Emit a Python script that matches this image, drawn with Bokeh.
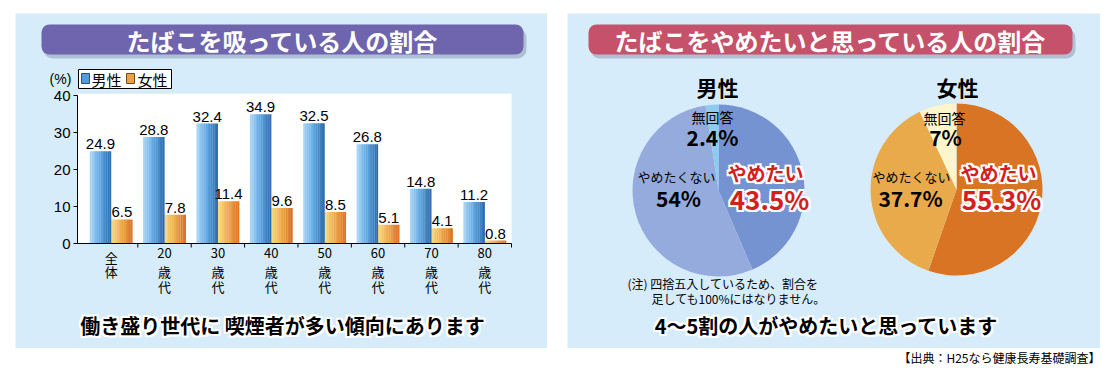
import math
from bokeh.plotting import figure
from bokeh.models import Range1d, Spacer, Quad
from bokeh.layouts import column, row
from bokeh.core.properties import value
from bokeh.embed import file_html
from bokeh.resources import INLINE

# ---------------- data ----------------
categories = ["全体", "20歳代", "30歳代", "40歳代", "50歳代", "60歳代", "70歳代", "80歳代"]
tick_labels = ["全\n体", "20\n歳\n代", "30\n歳\n代", "40\n歳\n代",
               "50\n歳\n代", "60\n歳\n代", "70\n歳\n代", "80\n歳\n代"]
male_smoke = [24.9, 28.8, 32.4, 34.9, 32.5, 26.8, 14.8, 11.2]
female_smoke = [6.5, 7.8, 11.4, 9.6, 8.5, 5.1, 4.1, 0.8]
y_ticks = [0, 10, 20, 30, 40]
series_names = ["男性", "女性"]

pie_labels = ["やめたい", "やめたくない", "無回答"]
male_quit = [43.5, 54.0, 2.4]
female_quit = [55.3, 37.7, 7.0]
male_quit_text = ["43.5%", "54%", "2.4%"]
female_quit_text = ["55.3%", "37.7%", "7%"]

title_left = "たばこを吸っている人の割合"
title_right = "たばこをやめたいと思っている人の割合"
caption_left = "働き盛り世代に 喫煙者が多い傾向にあります"
caption_right = "4～5割の人がやめたいと思っています"
note_lines = ["(注) 四捨五入しているため、割合を", "足しても100%にはなりません。"]
source_text = "【出典：H25なら健康長寿基礎調査】"

# ---------------- styles ----------------
PANEL = "#d7ecfa"
JP = "Noto Sans CJK JP"
NUM = "Liberation Sans"
PURPLE = "#6f64ae"
ROSE = "#c6516a"
RED = "#d4201c"
SHADOW = "#7d8ea6"
BLUE_STOPS = ["#a8d5f5", "#5ba4e1", "#2f6dab"]
ORANGE_STOPS = ["#f7d87d", "#eda74b", "#dc7325"]
SWATCH = ["#4f9ddc", "#eca244"]
MALE_PIE = ["#7592d1", "#95abdd", "#8ecbf0"]
FEMALE_PIE = ["#d97424", "#e9aa4b", "#fdf5cb"]

HAS_RADIUS = "border_radius" in Quad.properties()


def gradient(stops, n):
    """style helper: n colours running through the given colour stops"""
    rgb = [tuple(int(s[i:i + 2], 16) for i in (1, 3, 5)) for s in stops]
    out = []
    for k in range(n):
        t = k / (n - 1) * (len(rgb) - 1)
        a = min(int(t), len(rgb) - 2)
        f = t - a
        c = [round(rgb[a][m] + (rgb[a + 1][m] - rgb[a][m]) * f) for m in range(3)]
        out.append("#%02x%02x%02x" % tuple(c))
    return out


def deco_fig(w, h, bg=PANEL, **kw):
    p = figure(width=w, height=h, x_range=Range1d(0, w), y_range=Range1d(h, 0),
               x_axis_type=None, y_axis_type=None, min_border=0,
               toolbar_location=None, output_backend="svg",
               background_fill_color=bg, border_fill_color=bg, outline_line_color=None, **kw)
    p.grid.visible = False
    return p


def rquad(p, left, right, top, bottom, color, alpha=1.0, radius=8, line=None):
    kw = dict(left=[left], right=[right], top=[top], bottom=[bottom],
              fill_color=color, fill_alpha=alpha, line_color=line)
    if HAS_RADIUS and radius:
        kw["border_radius"] = radius
    p.quad(**kw)


def txt(p, x, y, s, size, color="black", bold=False, align="center", font=JP,
        baseline="middle"):
    p.text(x=[x], y=[y], text=[s], text_font=value(font), text_font_size=size,
           text_color=color, text_font_style="bold" if bold else "normal",
           text_align=align, text_baseline=baseline)


def halo(p, x, y, s, size, color, bold=True, w=2, font=JP, align="center"):
    offs = [(dx, dy) for dx in (-w, 0, w) for dy in (-w, 0, w) if (dx, dy) != (0, 0)]
    p.text(x=[x + dx for dx, dy in offs], y=[y + dy for dx, dy in offs], text=[s] * len(offs),
           text_font=value(font), text_font_size=size, text_color="white",
           text_font_style="bold" if bold else "normal",
           text_align=align, text_baseline="middle")
    txt(p, x, y, s, size, color, bold, align, font)


def title_bar(p, left, right, top, bottom, color, s):
    rquad(p, left + 2, right + 3, top + 4, bottom + 4, SHADOW, 0.45, 9)
    rquad(p, left, right, top, bottom, color, 1.0, 8)
    txt(p, (left + right) / 2, (top + bottom) / 2 + 1, s, "24px", "white", True)


# ---------------- left panel ----------------
LW, LH = 532, 335
# placement of the bar plot inside the panel (pixels from panel's left / top)
AX_L, AX_R, AX_T, AX_B = 62, 496, 82, 230
XMIN, XMAX = -0.63, 7.5
YMIN, YMAX = 0, 40
kx = (AX_R - AX_L) / (XMAX - XMIN)
ky = (AX_B - AX_T) / (YMAX - YMIN)
bx = Range1d(XMIN - AX_L / kx, XMAX + (LW - AX_R) / kx)
by = Range1d(YMIN - (LH - AX_B) / ky, YMAX + AX_T / ky)

lp = deco_fig(LW, LH, extra_x_ranges={"bx": bx}, extra_y_ranges={"by": by})
title_bar(lp, 26, 508, 11, 41, PURPLE, title_left)
R = dict(x_range_name="bx", y_range_name="by")

# plot area
lp.quad(left=[XMIN], right=[XMAX], bottom=[YMIN], top=[YMAX + 0.5], fill_color="white",
        line_color=None, **R)

idx = list(range(len(categories)))
BW = 0.4
n = 12
blue_strips = gradient(BLUE_STOPS, n)
orange_strips = gradient(ORANGE_STOPS, n)
sw = BW / n
for k in range(n):
    xs_m = [i - BW + (k + 0.5) * sw for i in idx]
    xs_f = [i + (k + 0.5) * sw for i in idx]
    lp.vbar(x=xs_m, top=male_smoke, bottom=0, width=sw * 1.1,
            fill_color=blue_strips[k], line_color=None, **R)
    lp.vbar(x=xs_f, top=female_smoke, bottom=0, width=sw * 1.1,
            fill_color=orange_strips[k], line_color=None, **R)

# value labels
lp.text(x=[i - BW / 2 for i in idx] + [i + BW / 2 for i in idx],
        y=male_smoke + female_smoke,
        text=[f"{v:.1f}" for v in male_smoke + female_smoke],
        y_offset=-2, text_align="center", text_baseline="bottom",
        text_font=value(NUM), text_font_size="15px", text_color="black", **R)

# y axis
lp.segment(x0=[XMIN], y0=[YMIN], x1=[XMIN], y1=[YMAX], line_color="black", line_width=1, **R)
lp.segment(x0=[XMIN - 4 / kx] * len(y_ticks), x1=[XMIN] * len(y_ticks), y0=y_ticks, y1=y_ticks,
           line_color="black", line_width=1, **R)
lp.text(x=[XMIN] * len(y_ticks), y=y_ticks, text=[str(t) for t in y_ticks], x_offset=-7,
        text_align="right", text_baseline="middle", text_font=value(NUM),
        text_font_size="15px", text_color="black", **R)

# x axis
lp.segment(x0=[XMIN], y0=[YMIN], x1=[XMAX], y1=[YMIN], line_color="black", line_width=1, **R)
bounds = [i + 0.5 for i in idx]
lp.segment(x0=bounds, x1=bounds, y0=[YMIN] * len(bounds), y1=[YMIN - 4 / ky] * len(bounds),
           line_color="black", line_width=1, **R)
lx, ly, lt, lo = [], [], [], []
for i, lab in zip(idx, tick_labels):
    for j, part in enumerate(lab.split("\n")):
        lx.append(i)
        ly.append(YMIN)
        lt.append(part)
        lo.append(4 + 14.5 * j)
lp.text(x=lx, y=ly, text=lt, y_offset=lo, text_align="center", text_baseline="top",
        text_font=value(JP), text_font_size="13px", text_color="black", **R)

# legend
rquad(lp, 63, 156, 56, 75, "white", 1.0, 0, line="black")
rquad(lp, 66, 74, 60, 70, SWATCH[0], 1.0, 0, line="#2b4f78")
txt(lp, 76, 65.5, series_names[0], "15px", align="left")
rquad(lp, 111, 119, 60, 70, SWATCH[1], 1.0, 0, line="#6e4a26")
txt(lp, 122, 65.5, series_names[1], "15px", align="left")
txt(lp, 45, 65, "(%)", "14px", font=NUM)

halo(lp, 267, 312, caption_left, "20px", "black", True, 2)

# ---------------- right panel ----------------
RW, RH = 533, 335
rp = deco_fig(RW, RH)
title_bar(rp, 21, 505, 11, 41, ROSE, title_right)

txt(rp, 150, 73, series_names[0], "21px", "black", True)
txt(rp, 390, 73, series_names[1], "21px", "black", True)


def pie(p, cx, cy, r, vals, colors):
    total = sum(vals)
    c = 0.0
    starts, ends = [], []
    for v in vals:
        c0 = c
        c += v / total
        starts.append(math.pi / 2 - 2 * math.pi * c)
        ends.append(math.pi / 2 - 2 * math.pi * c0)
    p.wedge(x=[cx] * len(vals), y=[cy] * len(vals), radius=r, start_angle=starts,
            end_angle=ends, direction="anticlock", fill_color=colors, line_color=None)


pie(rp, 151, 177, 86, male_quit, MALE_PIE)
pie(rp, 389, 176, 86, female_quit, FEMALE_PIE)

# male labels
txt(rp, 145, 103, pie_labels[2], "14px")
txt(rp, 145, 123, male_quit_text[2], "21px", bold=True)
txt(rp, 109, 163, pie_labels[1], "13px")
txt(rp, 111, 184, male_quit_text[1], "21px", bold=True)
halo(rp, 198, 159, pie_labels[0], "19px", RED, True, 2)
halo(rp, 202, 185, male_quit_text[0], "26px", RED, True, 2)
# female labels
txt(rp, 377, 104, pie_labels[2], "14px")
txt(rp, 378, 123, female_quit_text[2], "21px", bold=True)
txt(rp, 344, 163, pie_labels[1], "13px")
txt(rp, 343, 184, female_quit_text[1], "21px", bold=True)
halo(rp, 431, 159, pie_labels[0], "19px", RED, True, 2)
halo(rp, 434, 185, female_quit_text[0], "26px", RED, True, 2)

txt(rp, 60, 270, note_lines[0], "12px", align="left")
txt(rp, 84, 285, note_lines[1], "12px", align="left")

halo(rp, 259, 312, caption_right, "20px", "black", True, 2)

# ---------------- source ----------------
src = deco_fig(1112, 29, bg="white")
txt(src, 1100, 9, source_text, "12px", align="right")

root = column(
    Spacer(width=1112, height=13),
    row(Spacer(width=15, height=335), column(lp), Spacer(width=20, height=335), column(rp),
        Spacer(width=12, height=335), spacing=0),
    src,
    spacing=0,
)

open("out.html", "w").write(file_html(root, INLINE))
